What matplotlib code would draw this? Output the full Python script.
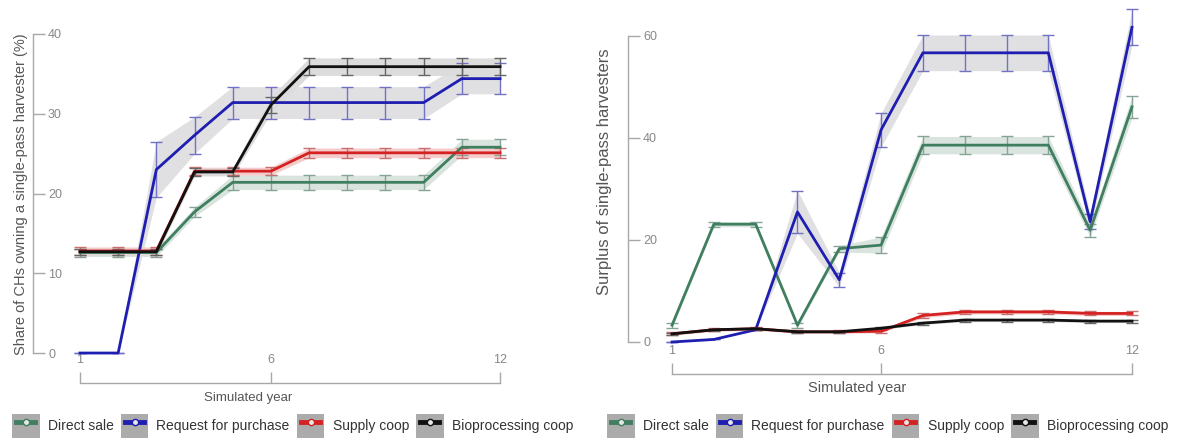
import matplotlib
matplotlib.use("Agg")
import matplotlib.pyplot as plt
from matplotlib.patches import Rectangle
from matplotlib.lines import Line2D
from matplotlib.legend_handler import HandlerTuple, HandlerLine2D
import numpy as np

plt.rcParams['font.family'] = ['Liberation Sans', 'DejaVu Sans']

years = list(range(1, 13))
series_names = ["Direct sale", "Request for purchase", "Supply coop", "Bioprocessing coop"]
line_colors = ["#3f7f60", "#1e1eb0", "#d42222", "#111111"]
err_colors = ["#86a496", "#7272c4", "#c87070", "#666666"]
band_colors = ["#dae4de", "#e0e0e3", "#f4cccc", "#dcdcdc"]

# Share of CHs owning a single-pass harvester (%)
share_direct = [12.6, 12.6, 12.6, 17.7, 21.4, 21.4, 21.4, 21.4, 21.4, 21.4, 25.8, 25.8]
share_request = [0.0, 0.0, 23.0, 27.3, 31.4, 31.4, 31.4, 31.4, 31.4, 31.4, 34.4, 34.4]
share_supply = [12.8, 12.8, 12.8, 22.8, 22.8, 22.8, 25.1, 25.1, 25.1, 25.1, 25.1, 25.1]
share_bio = [12.7, 12.7, 12.7, 22.7, 22.7, 31.1, 35.9, 35.9, 35.9, 35.9, 35.9, 35.9]

share_direct_err = [0.5, 0.5, 0.5, 0.6, 0.9, 0.9, 0.9, 0.9, 0.9, 0.9, 1.0, 1.0]
share_request_err = [0.0, 0.0, 3.5, 2.3, 2.0, 2.0, 2.0, 2.0, 2.0, 2.0, 1.9, 1.9]
share_supply_err = [0.5, 0.5, 0.5, 0.5, 0.5, 0.5, 0.6, 0.6, 0.6, 0.6, 0.6, 0.6]
share_bio_err = [0.4, 0.4, 0.4, 0.5, 0.5, 1.0, 1.1, 1.1, 1.1, 1.1, 1.1, 1.1]

# Surplus of single-pass harvesters
surplus_direct = [3.3, 23.1, 23.1, 3.3, 18.3, 19.0, 38.6, 38.6, 38.6, 38.6, 21.9, 46.1]
surplus_request = [0.0, 0.5, 2.4, 25.5, 12.2, 41.6, 56.7, 56.7, 56.7, 56.7, 23.6, 61.7]
surplus_supply = [1.6, 2.4, 2.6, 2.0, 2.0, 2.1, 5.2, 5.9, 5.9, 5.9, 5.6, 5.6]
surplus_bio = [1.6, 2.4, 2.6, 2.0, 2.0, 2.7, 3.7, 4.3, 4.3, 4.3, 4.1, 4.1]

surplus_direct_err = [0.5, 0.5, 0.5, 0.5, 0.6, 1.6, 1.7, 1.7, 1.7, 1.7, 1.3, 2.1]
surplus_request_err = [0.0, 0.0, 0.0, 4.2, 1.4, 3.3, 3.5, 3.5, 3.5, 3.5, 1.5, 3.5]
surplus_supply_err = [0.3, 0.3, 0.3, 0.3, 0.3, 0.3, 0.4, 0.4, 0.4, 0.4, 0.4, 0.4]
surplus_bio_err = [0.2, 0.2, 0.2, 0.2, 0.2, 0.2, 0.3, 0.3, 0.3, 0.3, 0.3, 0.3]

W, H = 1183, 441
PT = 0.72  # points per pixel at 100 dpi
fig = plt.figure(figsize=(W / 100, H / 100), dpi=100)


def px_axes(x0, x1, y_top, y_bottom):
    return fig.add_axes([x0 / W, 1 - y_bottom / H, (x1 - x0) / W, (y_bottom - y_top) / H])


def draw_panel(ax, means, errs, ylim, yticks, left_out, bottom_out):
    x = np.array(years)
    for i in range(4):
        m = np.array(means[i])
        e = np.array(errs[i])
        ax.fill_between(x, m - e, m + e, color=band_colors[i], lw=0, zorder=1)
    for i in range(4):
        m = np.array(means[i])
        e = np.array(errs[i])
        ax.errorbar(x, m, yerr=e, fmt='none', ecolor=err_colors[i], elinewidth=1.0,
                    capsize=4, capthick=1.0, zorder=2)
        ax.plot(x, m, color=line_colors[i], lw=2.0, zorder=3, solid_joinstyle='round')
    ax.set_xlim(0.6, 12.4)
    ax.set_ylim(*ylim)
    for s in ['top', 'right']:
        ax.spines[s].set_visible(False)
    ax.spines['left'].set_position(('outward', left_out * PT))
    ax.spines['bottom'].set_position(('outward', bottom_out * PT))
    ax.spines['left'].set_bounds(yticks[0], yticks[-1])
    ax.spines['bottom'].set_bounds(1, 12)
    for s in ['left', 'bottom']:
        ax.spines[s].set_color('#a8a8a8')
        ax.spines[s].set_linewidth(1.0)
    ax.set_yticks(yticks)
    ax.set_xticks([1, 6, 12])
    ax.tick_params(axis='y', direction='in', length=12 * PT, width=1.0, color='#a8a8a8',
                   pad=-15 * PT, labelsize=9, labelcolor='#888888')
    ax.tick_params(axis='x', direction='in', length=11 * PT, width=1.0, color='#a8a8a8',
                   pad=-21, labelsize=9, labelcolor='#888888')
    for lab in ax.get_yticklabels():
        lab.set_horizontalalignment('left')
    ax.patch.set_alpha(0)


# Left panel: share of CHs
axL = px_axes(64.7, 515.3, 26, 361)
draw_panel(axL,
           [share_direct, share_request, share_supply, share_bio],
           [share_direct_err, share_request_err, share_supply_err, share_bio_err],
           (-1, 41), [0, 10, 20, 30, 40], 31.7, 22)
axL.set_ylabel("Share of CHs owning a single-pass harvester (%)", fontsize=10.5,
               color='#555555', va='center')
axL.yaxis.set_label_coords(-0.097, 0.4985)
axL.set_xlabel("Simulated year", fontsize=9.5, color='#555555', va='center')
axL.xaxis.set_label_coords(0.407, -0.110)

# Right panel: surplus of harvesters
axR = px_axes(655.3, 1148.7, 0.3, 352.2)
draw_panel(axR,
           [surplus_direct, surplus_request, surplus_supply, surplus_bio],
           [surplus_direct_err, surplus_request_err, surplus_supply_err, surplus_bio_err],
           (-2, 67), [0, 20, 40, 60], 27.3, 21.8)
axR.set_ylabel("Surplus of single-pass harvesters", fontsize=12,
               color='#555555', va='center')
axR.yaxis.set_label_coords(-0.102, 0.512)
axR.set_xlabel("Simulated year", fontsize=10.5, color='#555555', va='center')
axR.xaxis.set_label_coords(0.409, -0.102)


class ShortLine(HandlerLine2D):
    """Legend line that covers only the middle of the handle box."""

    def get_xdata(self, legend, xdescent, ydescent, width, height, fontsize):
        c = -xdescent + 0.5 * width
        return [c - 0.34 * width, c + 0.34 * width], [c]


def legend_handles():
    hs = []
    for c in line_colors:
        box = Rectangle((0, 0), 1, 1, facecolor='#ababab', edgecolor='none')
        ln = Line2D([0], [0], color=c, lw=3.5, marker='o', markersize=4.5,
                    markerfacecolor='#e8e8e8', markeredgecolor=c, markeredgewidth=1.0)
        hs.append((box, ln))
    return hs


for x0 in (12 / W, 607 / W):
    fig.legend(legend_handles(), series_names, loc='center left',
               bbox_to_anchor=(x0, 1 - 426 / H), ncol=4, frameon=False,
               handler_map={tuple: HandlerTuple(ndivide=1, pad=0), Line2D: ShortLine()},
               handlelength=2.0, handleheight=2.2, handletextpad=0.58,
               columnspacing=0.5, fontsize=10, labelcolor='#333333',
               borderpad=0, borderaxespad=0)

fig.savefig("out.png", dpi=100)
